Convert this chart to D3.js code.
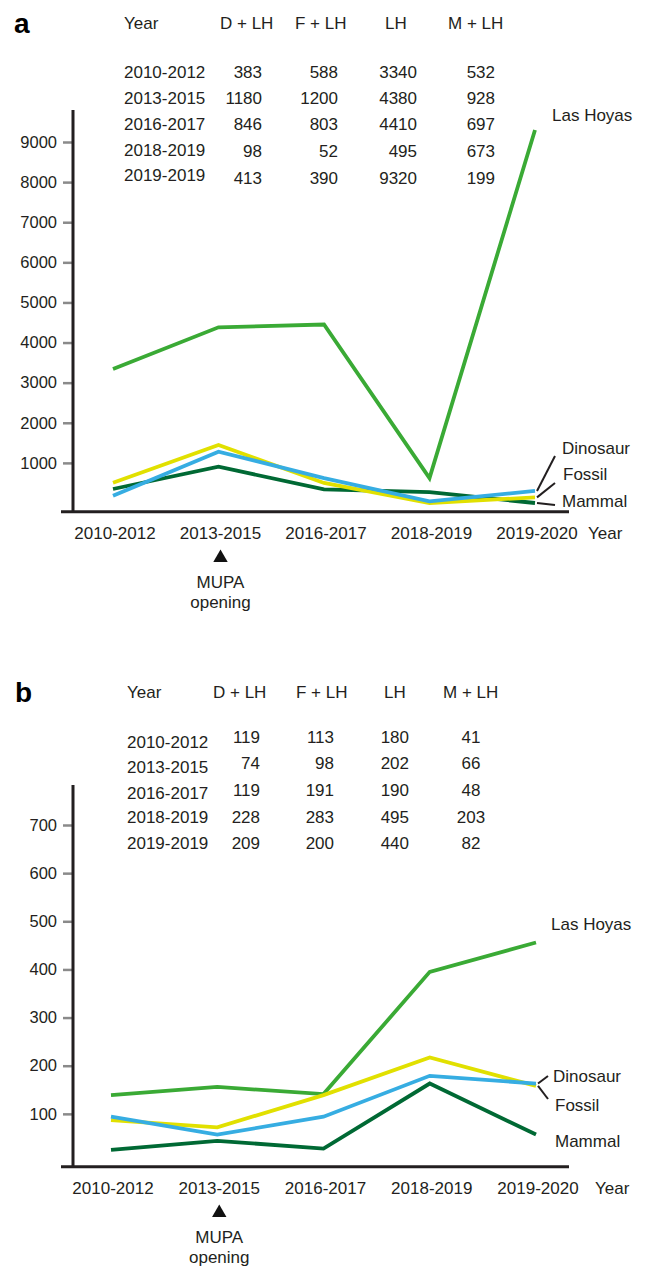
<!DOCTYPE html>
<html lang="en">
<head>
<meta charset="utf-8">
<title>Las Hoyas visitors</title>
<script src="https://cdn.jsdelivr.net/npm/d3@7"></script>
<style>
	body { margin: 0; background: #fff; }
	svg text { font-family: "Liberation Sans", Arial, sans-serif; fill: #231f20; }
</style>
</head>
<body>
<script>

// categories
var years = ["2010-2012", "2013-2015", "2016-2017", "2018-2019", "2019-2020"];
var tableYears = ["2010-2012", "2013-2015", "2016-2017", "2018-2019", "2019-2019"];
var tableHeads = ["Year", "D + LH", "F + LH", "LH", "M + LH"];

// panel a: table values
var aTableD = [383, 1180, 846, 98, 413];
var aTableF = [588, 1200, 803, 52, 390];
var aTableLH = [3340, 4380, 4410, 495, 9320];
var aTableM = [532, 928, 697, 673, 199];
// panel a: plotted lines
var aLasHoyas = [3340, 4380, 4450, 620, 9300];
var aMammal = [349, 905, 340, 270, 0];
var aFossil = [506, 1446, 500, 0, 140];
var aDinosaur = [180, 1280, 620, 40, 300];
var aTicks = [1000, 2000, 3000, 4000, 5000, 6000, 7000, 8000, 9000];

// panel b: table values
var bTableD = [119, 74, 119, 228, 209];
var bTableF = [113, 98, 191, 283, 200];
var bTableLH = [180, 202, 190, 495, 440];
var bTableM = [41, 66, 48, 203, 82];
// panel b: plotted lines
var bLasHoyas = [139, 156, 141, 395, 456];
var bMammal = [25, 44, 28, 163, 57];
var bFossil = [87, 72, 139, 217, 158];
var bDinosaur = [94, 57, 94, 179, 163];
var bTicks = [100, 200, 300, 400, 500, 600, 700];

var colors = {
	"Las Hoyas": "#3aaa35",
	"Mammal": "#006934",
	"Fossil": "#e1e000",
	"Dinosaur": "#36ade2"
};

var svg = d3.select("body").append("svg")
	.attr("width", 646)
	.attr("height", 1267);

function drawPanel(p) {
	var g = svg.append("g");

	// panel letter
	g.append("text").text(p.letter)
		.attr("x", p.letterX).attr("y", p.headY).attr("dy", "0.35em")
		.attr("font-size", "28px").attr("font-weight", "bold")
		.style("fill", "#000");

	// table
	tableHeads.forEach(function(h, i) {
		g.append("text").text(h)
			.attr("x", p.headX[i]).attr("y", p.headY).attr("dy", "0.35em")
			.attr("font-size", "17px");
	});
	var cols = [p.tD, p.tF, p.tLH, p.tM];
	tableYears.forEach(function(yr, r) {
		g.append("text").text(yr)
			.attr("x", p.headX[0]).attr("y", p.rowYearY[r]).attr("dy", "0.35em")
			.attr("font-size", "17px");
		cols.forEach(function(col, c) {
			g.append("text").text(col[r])
				.attr("x", p.colX[c]).attr("y", p.rowNumY[r]).attr("dy", "0.35em")
				.attr("text-anchor", p.colAnchor[c])
				.attr("font-size", "17px");
		});
	});

	var x = d3.scalePoint().domain(years).range(p.xRange);
	var y = d3.scaleLinear().domain([0, p.yMax]).range(p.yRange);

	// y ticks
	var yAxis = g.append("g")
		.attr("transform", "translate(" + p.axisX + ",0)")
		.call(d3.axisLeft(y).tickValues(p.ticks).tickSize(10).tickPadding(6).tickFormat(d3.format("d")));
	yAxis.select(".domain").remove();
	yAxis.selectAll(".tick line").attr("stroke", "#8a8a8a").attr("stroke-width", 2.5);
	yAxis.selectAll(".tick text").attr("font-size", "16.5px").style("fill", "#231f20");

	// axis lines
	g.append("line")
		.attr("x1", p.axisX).attr("x2", p.axisX)
		.attr("y1", y(p.yTop)).attr("y2", y(p.yBase))
		.attr("stroke", "#231f20").attr("stroke-width", 3);
	g.append("line")
		.attr("x1", p.axisX - 12).attr("x2", 569)
		.attr("y1", y(p.yBase)).attr("y2", y(p.yBase))
		.attr("stroke", "#231f20").attr("stroke-width", 3);

	// x labels
	g.selectAll(".xl").data(years).enter().append("text")
		.attr("x", function(d) { return x(d) + 2; })
		.attr("y", y(p.yBase) + 21).attr("dy", "0.35em")
		.attr("text-anchor", "middle").attr("font-size", "17px")
		.text(function(d) { return d; });
	g.append("text").text("Year")
		.attr("x", p.yearX).attr("y", y(p.yBase) + 21).attr("dy", "0.35em")
		.attr("font-size", "17px");

	// MUPA opening marker
	var mx = x("2013-2015") + 2;
	var my = y(p.yBase) + 21;
	g.append("path")
		.attr("d", d3.symbol().type(d3.symbolTriangle).size(90))
		.attr("transform", "translate(" + mx + "," + (my + 25) + ")")
		.attr("fill", "#111");
	g.append("text").text("MUPA")
		.attr("x", mx).attr("y", my + 49).attr("dy", "0.35em")
		.attr("text-anchor", "middle").attr("font-size", "17px");
	g.append("text").text("opening")
		.attr("x", mx).attr("y", my + 69).attr("dy", "0.35em")
		.attr("text-anchor", "middle").attr("font-size", "17px");

	// lines
	var line = d3.line()
		.x(function(d, i) { return x(years[i]); })
		.y(function(d) { return y(d); });
	p.series.forEach(function(s) {
		g.append("path")
			.attr("d", line(s.values))
			.attr("fill", "none")
			.attr("stroke", colors[s.name])
			.attr("stroke-width", 3.8)
			.attr("stroke-linejoin", "miter");
	});

	// series labels and leaders
	p.series.forEach(function(s) {
		var lab = p.labels[s.name];
		g.append("text").text(s.name)
			.attr("x", lab.x).attr("y", lab.y).attr("dy", "0.35em")
			.attr("font-size", "17px");
		if (lab.lx) {
			var last = s.values[s.values.length - 1];
			g.append("line")
				.attr("x1", x(years[years.length - 1]) + 2).attr("y1", y(last))
				.attr("x2", lab.lx).attr("y2", lab.ly)
				.attr("stroke", "#231f20").attr("stroke-width", 2);
		}
	});
}

drawPanel({
	letter: "a", letterX: 14,
	headY: 23,
	headX: [124, 220, 295, 385, 448],
	colX: [262, 338, 417, 495], colAnchor: ["end", "end", "end", "end"],
	rowYearY: [72, 98, 124, 150, 175],
	rowNumY: [72, 98, 124, 151, 178],
	tD: aTableD, tF: aTableF, tLH: aTableLH, tM: aTableM,
	xRange: [113, 535],
	yMax: 9000, yRange: [503, 142], yTop: 9800, yBase: -220,
	axisX: 73, ticks: aTicks, yearX: 588,
	series: [
		{ name: "Las Hoyas", values: aLasHoyas },
		{ name: "Mammal", values: aMammal },
		{ name: "Fossil", values: aFossil },
		{ name: "Dinosaur", values: aDinosaur }
	],
	labels: {
		"Las Hoyas": { x: 552, y: 115 },
		"Dinosaur": { x: 562, y: 448, lx: 555, ly: 456 },
		"Fossil": { x: 563, y: 474, lx: 555, ly: 483 },
		"Mammal": { x: 562, y: 501, lx: 555, ly: 505 }
	}
});

drawPanel({
	letter: "b", letterX: 15,
	headY: 692,
	headX: [127, 213, 296, 384, 443],
	colX: [260, 334, 409, 471], colAnchor: ["end", "end", "end", "middle"],
	rowYearY: [742, 767, 793, 817, 843],
	rowNumY: [737, 763, 790, 817, 843],
	tD: bTableD, tF: bTableF, tLH: bTableLH, tM: bTableM,
	xRange: [111, 536],
	yMax: 700, yRange: [1162, 825], yTop: 783, yBase: -10,
	axisX: 73, ticks: bTicks, yearX: 595,
	series: [
		{ name: "Las Hoyas", values: bLasHoyas },
		{ name: "Mammal", values: bMammal },
		{ name: "Fossil", values: bFossil },
		{ name: "Dinosaur", values: bDinosaur }
	],
	labels: {
		"Las Hoyas": { x: 551, y: 924 },
		"Dinosaur": { x: 553, y: 1076, lx: 548, ly: 1076 },
		"Fossil": { x: 555, y: 1105, lx: 548, ly: 1099 },
		"Mammal": { x: 555, y: 1141 }
	}
});

</script>
</body>
</html>
